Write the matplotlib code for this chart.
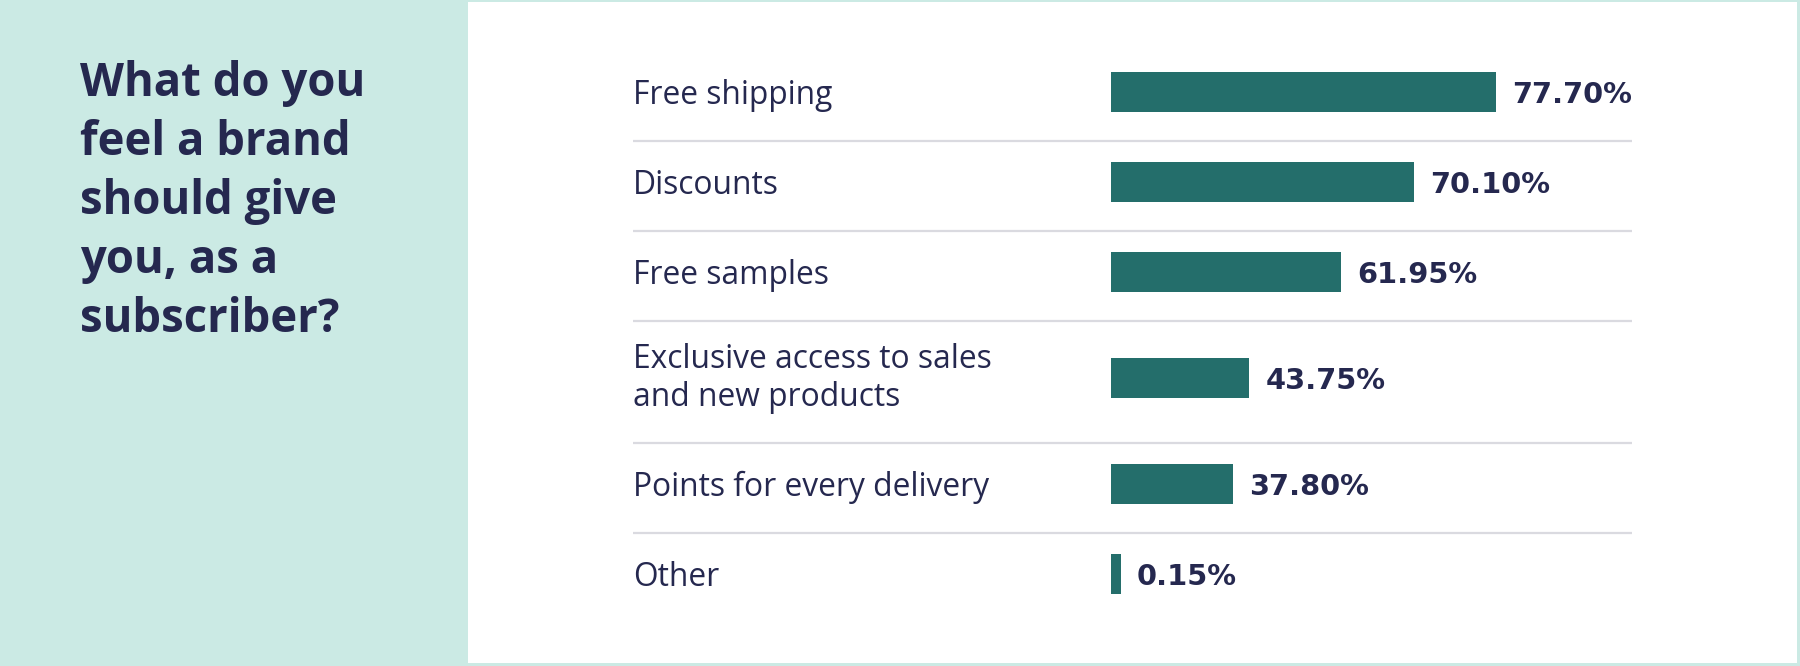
import matplotlib
matplotlib.use("Agg")
import matplotlib.pyplot as plt
from matplotlib.patches import Rectangle

# ---------------- data ----------------
categories = [
    "Free shipping",
    "Discounts",
    "Free samples",
    "Exclusive access to sales\nand new products",
    "Points for every delivery",
    "Other",
]
# percentages printed next to the bars
values = [77.70, 70.10, 61.95, 43.75, 37.80, 0.15]
# bar lengths as drawn in the graphic (same % scale, longest bar = 77.7)
bar_lengths = [77.7, 61.1, 46.5, 27.9, 24.7, 2.0]
title = "What do you\nfeel a brand\nshould give\nyou, as a\nsubscriber?"

# ---------------- style ----------------
MINT = "#CBEAE4"
TEAL = "#246E6B"
NAVY = "#25284F"
GRID = "#DADAE0"

W, H = 1800, 666
DPI = 100
fig = plt.figure(figsize=(W / DPI, H / DPI), dpi=DPI)
fig.patch.set_facecolor(MINT)

# white panel
fig.patches.append(Rectangle((468 / W, 1 - 663 / H), (1797 - 468) / W, (663 - 2) / H,
                             transform=fig.transFigure, facecolor="white",
                             edgecolor="none", zorder=-5))

# title (va='baseline' on multi-line text aligns the last line)
title_fs = 32.8
title_first_base, title_step = 106.8, 56.3
n_title = title.count("\n") + 1
fig.text(80 / W, 1 - (title_first_base + (n_title - 1) * title_step) / H, title,
         fontsize=title_fs, fontweight="bold",
         family=["Open Sans", "DejaVu Sans"], color=NAVY, va="baseline", ha="left",
         linespacing=1.33, zorder=3)

# chart axes: spans x 633..1632 px, y in pixel units (layout)
px_per_unit = 385 / 77.7
ax_left_px, ax_right_px, zero_px = 633, 1632, 1111
ax = fig.add_axes([ax_left_px / W, 0, (ax_right_px - ax_left_px) / W, 1], zorder=2)
ax.set_xlim(-(zero_px - ax_left_px) / px_per_unit, (ax_right_px - zero_px) / px_per_unit)
ax.set_ylim(H, 0)
ax.axis("off")
ax.patch.set_alpha(0)

# row layout
row_heights = [90, 90, 90, 122, 90, 90]
top = 51.2
row_centers, separators = [], []
for i, rh in enumerate(row_heights):
    row_centers.append(top + rh / 2 - 4)
    if i > 0:
        separators.append(top)
    top += rh

bar_h = 39.6
ax.barh(row_centers, bar_lengths, height=bar_h, color=TEAL, left=0, zorder=2)

for s in separators:
    ax.axhline(s, xmin=0, xmax=1, color=GRID, linewidth=1.6, zorder=1)

cat_fs = 22.9
cat_cap = 0.714 * cat_fs / 72 * DPI
cat_spacing = 33.8
for yc, lab in zip(row_centers, categories):
    n = lab.count("\n") + 1
    last_center = yc + (n - 1) * cat_spacing / 2
    ax.text(0.0, last_center + cat_cap / 2, lab, transform=ax.get_yaxis_transform(),
            fontsize=cat_fs, family=["Open Sans", "DejaVu Sans"], color=NAVY,
            ha="left", va="baseline", linespacing=1.21)

val_fs = 20.8
val_cap = 0.729 * val_fs / 72 * DPI
for yc, bl, v in zip(row_centers, bar_lengths, values):
    ax.annotate(f"{v:.2f}%", xy=(bl, yc + val_cap / 2), xytext=(16 * 72 / DPI, 0),
                textcoords="offset points", fontsize=val_fs, fontweight="bold",
                family=["DejaVu Sans"], color=NAVY, ha="left", va="baseline")

fig.savefig("out.png", dpi=DPI, facecolor=MINT)
